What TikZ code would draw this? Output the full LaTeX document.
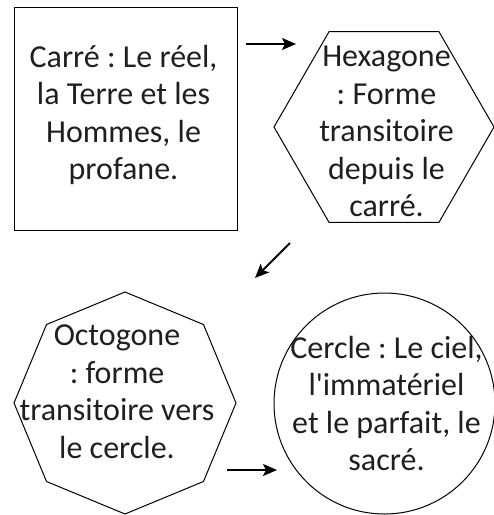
\documentclass[tikz,border=0pt]{standalone}
\usepackage{fontspec}
\setmainfont{Carlito}[Ligatures=TeXOff]
\usepackage{tikz}
\usetikzlibrary{arrows.meta,shapes.geometric}
\usepackage{xcolor}
\newcommand{\bigtxt}{\fontsize{32pt}{37.5pt}\selectfont\frenchspacing}

\begin{document}
\begin{tikzpicture}[x=1pt, y=-1pt,
  every node/.style={font=\bigtxt, text=black!88},
  form/.style={draw, line width=1pt, inner sep=0pt, outer sep=0pt},
  txt/.style={align=center, inner sep=0pt},
  flow/.style={-{Stealth[length=14pt, width=12pt, inset=3pt]}, line width=1.8pt}]
  \useasboundingbox (0,0) rectangle (494,515);
  \node[form, rectangle, minimum width=223pt, minimum height=223pt] (carre) at (125.5,119) {};
  \node[form, regular polygon, regular polygon sides=6, minimum size=220pt] (hexa) at (384,127) {};
  \node[form, regular polygon, regular polygon sides=8, shape border rotate=22.5, minimum size=222pt] (octo) at (125,403) {};
  \node[form, circle, minimum size=221pt] (cercle) at (384.5,403.5) {};
  \node[txt] (carretxt) at (123.5,115) {Carré : Le réel,\\la Terre et les\\Hommes, le\\profane.};
  \node[txt] (hexatxt) at (386.5,131.5) {Hexagone\\: Forme\\transitoire\\depuis le\\carré.};
  \node[txt] (octotxt) at (117,391.5) {Octogone\\: forme\\transitoire vers\\le cercle.};
  \node[txt] (cercletxt) at (386.5,403.5) {Cercle : Le ciel,\\l'immatériel\\et le parfait, le\\sacré.};
  \coordinate (a1s) at (246,44);
  \coordinate (a1e) at (296,44);
  \coordinate (a2s) at (290,243);
  \coordinate (a2e) at (255,278);
  \coordinate (a3s) at (227,470);
  \coordinate (a3e) at (277,470);
  \draw[flow] (a1s) -- (a1e);
  \draw[flow] (a2s) -- (a2e);
  \draw[flow] (a3s) -- (a3e);
\end{tikzpicture}
\end{document}
